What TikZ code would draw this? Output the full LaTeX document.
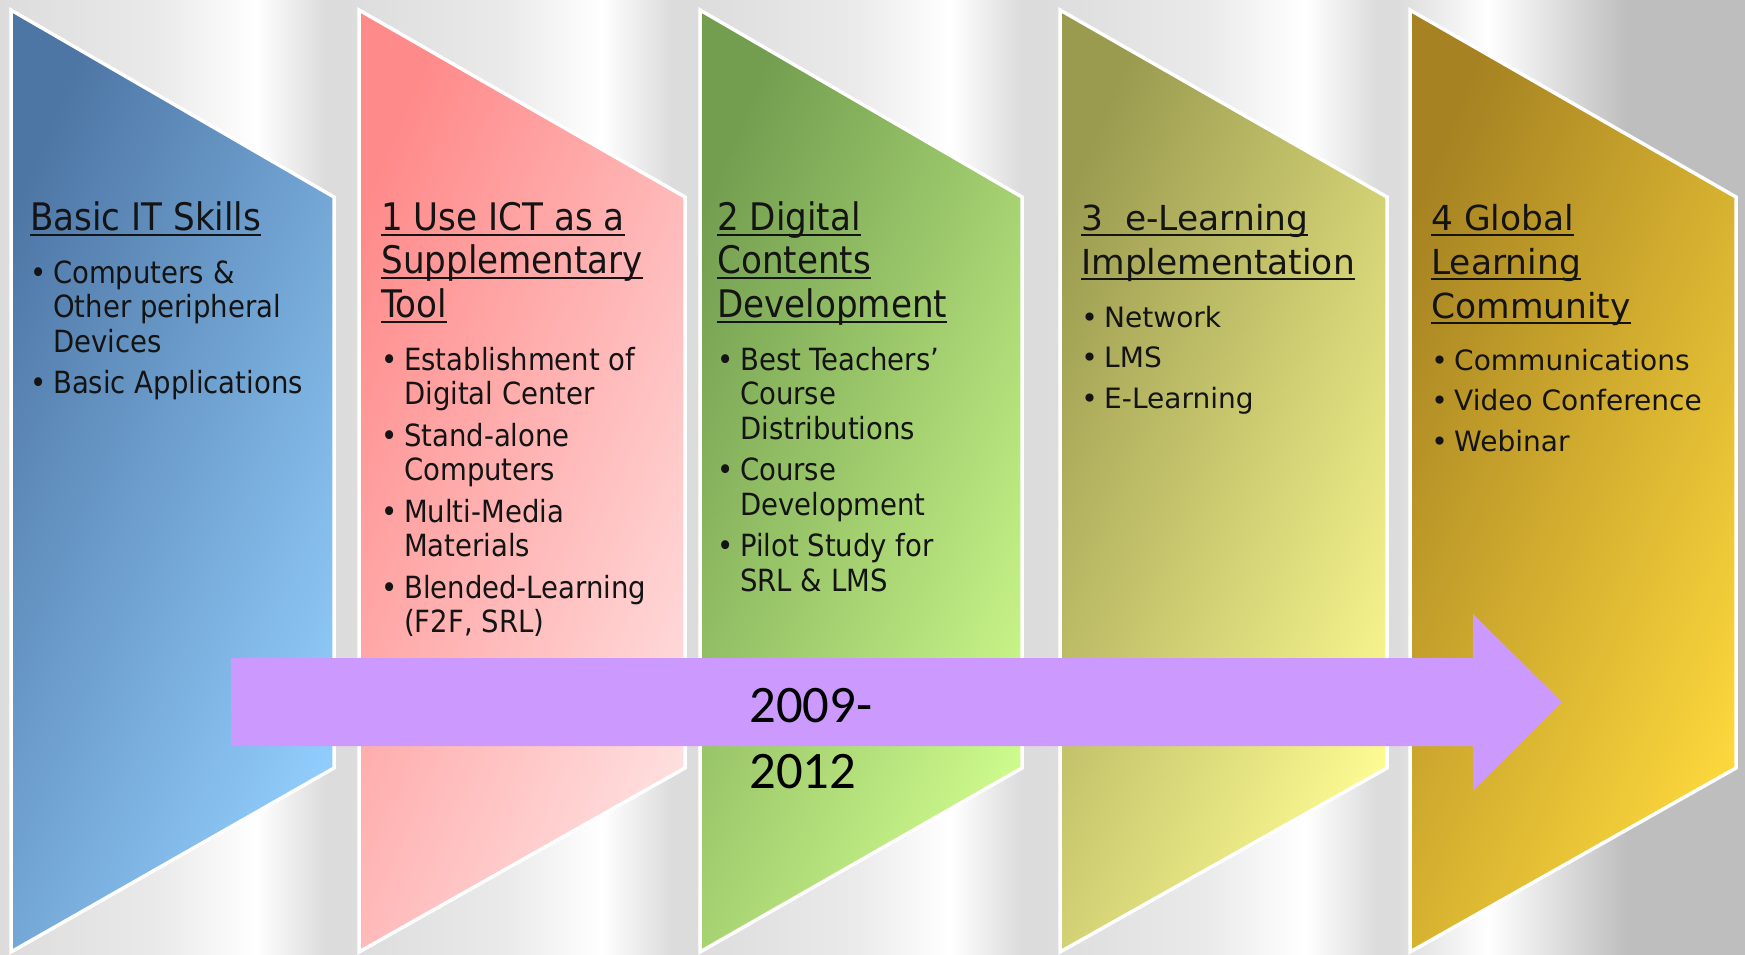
\documentclass[tikz,border=0pt]{standalone}
\usepackage{fontspec}
\setmainfont{DejaVu Sans}
\newfontfamily\condfont{DejaVu Sans Condensed}
\newfontfamily\yearfont{Carlito}
\definecolor{bgray}{RGB}{220,220,220}
\definecolor{bgrayd}{RGB}{190,190,190}
\definecolor{blueA}{RGB}{78,118,165}
\definecolor{blueB}{RGB}{145,205,252}
\definecolor{redA}{RGB}{255,138,138}
\definecolor{redB}{RGB}{255,222,222}
\definecolor{greenA}{RGB}{115,158,80}
\definecolor{greenB}{RGB}{205,250,140}
\definecolor{oliveA}{RGB}{155,155,80}
\definecolor{oliveB}{RGB}{252,250,145}
\definecolor{goldA}{RGB}{166,130,34}
\definecolor{goldB}{RGB}{252,215,60}
\definecolor{arrowc}{RGB}{204,153,255}
\pgfdeclarehorizontalshading{ribbon}{100bp}{color(0bp)=(bgray); color(25bp)=(bgray); color(48bp)=(bgray!60!white); color(62bp)=(white); color(72bp)=(bgray); color(100bp)=(bgray)}
\pgfdeclarehorizontalshading{ribbonend}{100bp}{color(0bp)=(bgray); color(25bp)=(bgray); color(38bp)=(white); color(58bp)=(bgrayd); color(100bp)=(bgrayd)}
\tikzstyle{panel} = [draw=white, line width=0.7mm]
\tikzstyle{headA} = [anchor=base west, inner sep=0pt, align=left, text=black!92, font=\condfont\fontsize{21.6}{24.75}\selectfont]
\tikzstyle{listA} = [anchor=base west, inner sep=0pt, align=left, text=black!92, font=\condfont\fontsize{17.4}{19.6}\selectfont]
\tikzstyle{headB} = [anchor=base west, inner sep=0pt, align=left, text=black!92, font=\fontsize{19.6}{25}\selectfont]
\tikzstyle{listB} = [anchor=base west, inner sep=0pt, align=left, text=black!92, font=\fontsize{15.95}{23}\selectfont]
\tikzstyle{year} = [anchor=base west, inner sep=0pt, align=left, font=\yearfont\fontsize{30}{37}\selectfont]
\newcommand{\uln}[1]{\setbox0\hbox{#1}\rlap{\rule[-3.3pt]{\wd0}{1.2pt}}\box0}
\newcommand{\bul}{\makebox[13pt][l]{\textbullet}}
\newcommand{\cnt}{\hspace*{13pt}}

\begin{document}
\begin{tikzpicture}[x=0.2mm,y=-0.2mm]
    \useasboundingbox (0,0) rectangle (1745,955);
    % background
    \foreach \a/\b in {0/346,346/692,692/1041,1041/1398}
      \shade[shading=ribbon] (\a,0) rectangle (\b,955);
    \shade[shading=ribbonend] (1398,0) rectangle (1745,955);
    % panels
    \foreach \l/\r/\ca/\cb in {11/334/blueA/blueB,359/685/redA/redB,700/1022/greenA/greenB,1060/1387/oliveA/oliveB,1410/1736/goldA/goldB}
      \draw[panel,left color=\ca,right color=\cb,shading angle=67] (\l,10) -- (\r,197) -- (\r,768) -- (\l,952) -- cycle;
    % time arrow
    \fill[arrowc] (231,658) -- (1473,658) -- (1473,614) -- (1562,702) -- (1473,791) -- (1473,746) -- (231,746) -- cycle;
    \node[year](yr) at (749,788){2009-\\2012};
    % panel texts (anchored at the last baseline)
    \node[headA](h1) at (30,230){\uln{Basic IT Skills}};
    \node[listA](l1) at (30,393.5){\bul Computers \&\\ \cnt Other peripheral\\ \cnt Devices\\[4pt] \bul Basic Applications};
    \node[headA](h2) at (381,317){\uln{1 Use ICT as a}\\ \uln{Supplementary}\\ \uln{Tool}};
    \node[listA](l2) at (381,632.5){\bul Establishment of\\ \cnt Digital Center\\[4pt] \bul Stand-alone\\ \cnt Computers\\[4pt] \bul Multi-Media\\ \cnt Materials\\[4pt] \bul Blended-Learning\\ \cnt (F2F, SRL)};
    \node[headA](h3) at (717,317){\uln{2 Digital}\\ \uln{Contents}\\ \uln{Development}};
    \node[listA](l3) at (717,591){\bul Best Teachers’\\ \cnt Course\\ \cnt Distributions\\[4pt] \bul Course\\ \cnt Development\\[4pt] \bul Pilot Study for\\ \cnt SRL \& LMS};
    \node[headB](h4) at (1081,274){\uln{3\ \ e-Learning}\\ \uln{Implementation}};
    \node[listB](l4) at (1081,408){\bul Network\\ \bul LMS\\ \bul E-Learning};
    \node[headB](h5) at (1431,318){\uln{4 Global}\\ \uln{Learning}\\ \uln{Community}};
    \node[listB](l5) at (1431,451){\bul Communications\\ \bul Video Conference\\ \bul Webinar};
\end{tikzpicture}
\end{document}
